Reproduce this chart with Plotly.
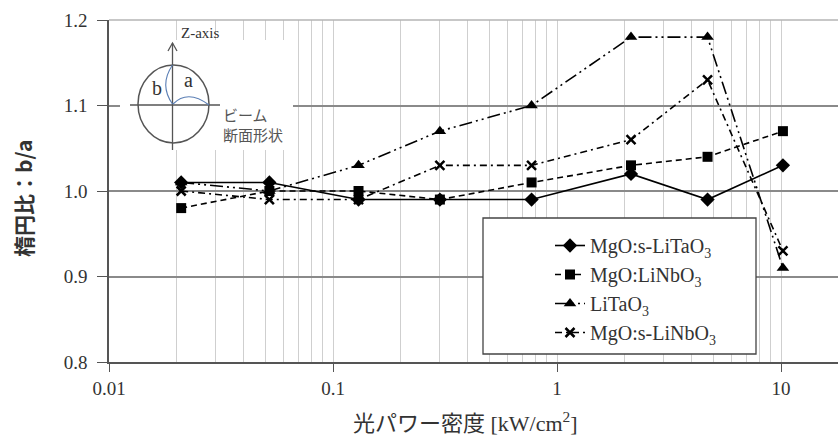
import plotly.graph_objects as go

# ---- data ----
power_density = [0.021, 0.052, 0.13, 0.30, 0.77, 2.14, 4.7, 10.2]
mgo_s_litao3 = [1.01, 1.01, 0.99, 0.99, 0.99, 1.02, 0.99, 1.03]
mgo_linbo3 = [0.98, 1.00, 1.00, 0.99, 1.01, 1.03, 1.04, 1.07]
litao3 = [1.01, 1.00, 1.03, 1.07, 1.10, 1.18, 1.18, 0.91]
mgo_s_linbo3 = [1.00, 0.99, 0.99, 1.03, 1.03, 1.06, 1.13, 0.93]

series_names = ["MgO:s-LiTaO<sub>3</sub>", "MgO:LiNbO<sub>3</sub>",
                "LiTaO<sub>3</sub>", "MgO:s-LiNbO<sub>3</sub>"]
x_tick_vals = [0.01, 0.1, 1, 10]
x_tick_text = ["0.01", "0.1", "1", "10"]
y_tick_vals = [0.8, 0.9, 1.0, 1.1, 1.2]
y_tick_text = ["0.8", "0.9", "1.0", "1.1", "1.2"]

W, H = 838, 439
L, T, R, B = 109, 20, 838, 362
PW, PH = R - L, B - T


def px(x):
    return (x - L) / PW


def py(y):
    return (B - y) / PH


SERIF = "Liberation Serif, Noto Sans CJK JP, serif"
fig = go.Figure()

styles = [
    dict(symbol="diamond", size=11, dash="solid"),
    dict(symbol="square", size=10, dash="6px,4px"),
    dict(symbol="triangle-up", size=11, dash="13px,4px,2px,4px,2px,4px"),
    dict(symbol="x-thin-open", size=9, dash="7px,4px,2px,4px"),
]
for name, ys, st in zip(series_names, [mgo_s_litao3, mgo_linbo3, litao3, mgo_s_linbo3], styles):
    marker = dict(symbol=st["symbol"], size=st["size"], color="black")
    if st["symbol"] == "x-thin-open":
        marker["line"] = dict(color="black", width=2.5)
    fig.add_trace(go.Scatter(
        x=power_density, y=ys, name=name, mode="lines+markers",
        line=dict(color="black", width=1.6, dash=st["dash"]),
        marker=marker, legendgroup=name,
    ))

minor_vals = [m * 10 ** e for e in range(-2, 2) for m in range(1, 10)]

fig.update_xaxes(
    type="log", range=[-2, -2 + (R - L) / 224.0],
    tickvals=x_tick_vals, ticktext=x_tick_text,
    showgrid=True, gridcolor="#cfcfcf", gridwidth=1,
    minor=dict(tickvals=minor_vals, showgrid=True, gridcolor="#cfcfcf", gridwidth=1, ticks=""),
    showline=True, linecolor="#555555", linewidth=1.5,
    ticks="outside", ticklen=8, tickcolor="#555555", tickwidth=1.2,
    tickfont=dict(family=SERIF, size=19, color="#333333"),
    zeroline=False,
)
fig.update_yaxes(
    range=[0.8, 1.2], tickvals=y_tick_vals, ticktext=y_tick_text,
    showgrid=True, gridcolor="#8a8a8a", gridwidth=1.8,
    showline=True, linecolor="#555555", linewidth=1.5,
    ticks="outside", ticklen=10, tickcolor="#555555", tickwidth=1.2,
    ticklabelstandoff=6,
    tickfont=dict(family=SERIF, size=19, color="#333333"),
    zeroline=False,
)

shapes = []
# lighter top line at 1.2
shapes.append(dict(type="line", xref="paper", yref="paper", x0=0, x1=1, y0=1, y1=1,
                   line=dict(color="#b5b5b5", width=1.5), layer="above"))
# inset white background
shapes.append(dict(type="rect", xref="paper", yref="paper",
                   x0=px(120), x1=px(293), y0=py(150), y1=py(40),
                   fillcolor="white", line=dict(width=0), layer="above"))
# inset horizontal line
shapes.append(dict(type="line", xref="paper", yref="paper",
                   x0=px(130), x1=px(220), y0=py(105), y1=py(105),
                   line=dict(color="#555555", width=1.5), layer="above"))
# inset vertical axis
shapes.append(dict(type="line", xref="paper", yref="paper",
                   x0=px(172.5), x1=px(172.5), y0=py(150), y1=py(43),
                   line=dict(color="#555555", width=1.3), layer="above"))
# arrow head
shapes.append(dict(type="path", xref="paper", yref="paper",
                   path=f"M {px(168)},{py(51)} L {px(172.5)},{py(43)} L {px(177)},{py(51)}",
                   line=dict(color="#555555", width=1.3), layer="above"))
# circle
shapes.append(dict(type="circle", xref="paper", yref="paper",
                   x0=px(138), x1=px(209), y0=py(143), y1=py(65),
                   line=dict(color="#555555", width=1.5), layer="above"))
# blue curves
shapes.append(dict(type="path", xref="paper", yref="paper",
                   path=f"M {px(172.5)},{py(104)} Q {px(159)},{py(85)} {px(172.5)},{py(65)}",
                   line=dict(color="#5b7fb5", width=1.1), layer="above"))
shapes.append(dict(type="path", xref="paper", yref="paper",
                   path=f"M {px(173)},{py(104)} Q {px(188)},{py(89)} {px(209)},{py(105)}",
                   line=dict(color="#5b7fb5", width=1.1), layer="above"))
# legend box
shapes.append(dict(type="rect", xref="paper", yref="paper",
                   x0=px(483), x1=px(756), y0=py(354), y1=py(218),
                   fillcolor="white", line=dict(color="#444444", width=1.3), layer="above"))

annotations = [
    dict(text="Z-axis", x=px(179), y=py(33), xref="paper", yref="paper",
         xanchor="left", yanchor="middle", showarrow=False,
         font=dict(family=SERIF, size=15, color="#333333")),
    dict(text="a", x=px(188), y=py(80), xref="paper", yref="paper",
         xanchor="center", yanchor="middle", showarrow=False,
         font=dict(family=SERIF, size=20, color="#333333")),
    dict(text="b", x=px(157), y=py(88), xref="paper", yref="paper",
         xanchor="center", yanchor="middle", showarrow=False,
         font=dict(family=SERIF, size=20, color="#333333")),
    dict(text="ビーム<br>断面形状", x=px(221), y=py(124), xref="paper", yref="paper",
         xanchor="left", yanchor="middle", showarrow=False, align="left",
         font=dict(family="Noto Sans CJK JP", size=15, color="#555555")),
    dict(text="光パワー密度 [kW/cm<sup>2</sup>]", x=px(465), y=py(422), xref="paper", yref="paper",
         xanchor="center", yanchor="middle", showarrow=False,
         font=dict(family=SERIF, size=22, color="#333333")),
    dict(text="<b>楕円比：b/a</b>", x=px(23), y=py(199), xref="paper", yref="paper",
         xanchor="center", yanchor="middle", showarrow=False, textangle=-90,
         font=dict(family="Noto Sans CJK JP", size=21, color="#333333")),
]

fig.update_layout(
    width=W, height=H,
    margin=dict(l=L, r=W - R, t=T, b=H - B, pad=0),
    paper_bgcolor="white", plot_bgcolor="white",
    shapes=shapes, annotations=annotations,
    showlegend=True,
    legend=dict(x=px(550), y=py(226), xanchor="left", yanchor="top",
                bgcolor="rgba(0,0,0,0)", borderwidth=0,
                font=dict(family=SERIF, size=20, color="#333333"),
                tracegroupgap=0, itemwidth=30),
)

fig.write_html("out.html", config={"displayModeBar": False},
               post_script="document.body.style.margin='0';document.body.style.overflow='hidden';")
